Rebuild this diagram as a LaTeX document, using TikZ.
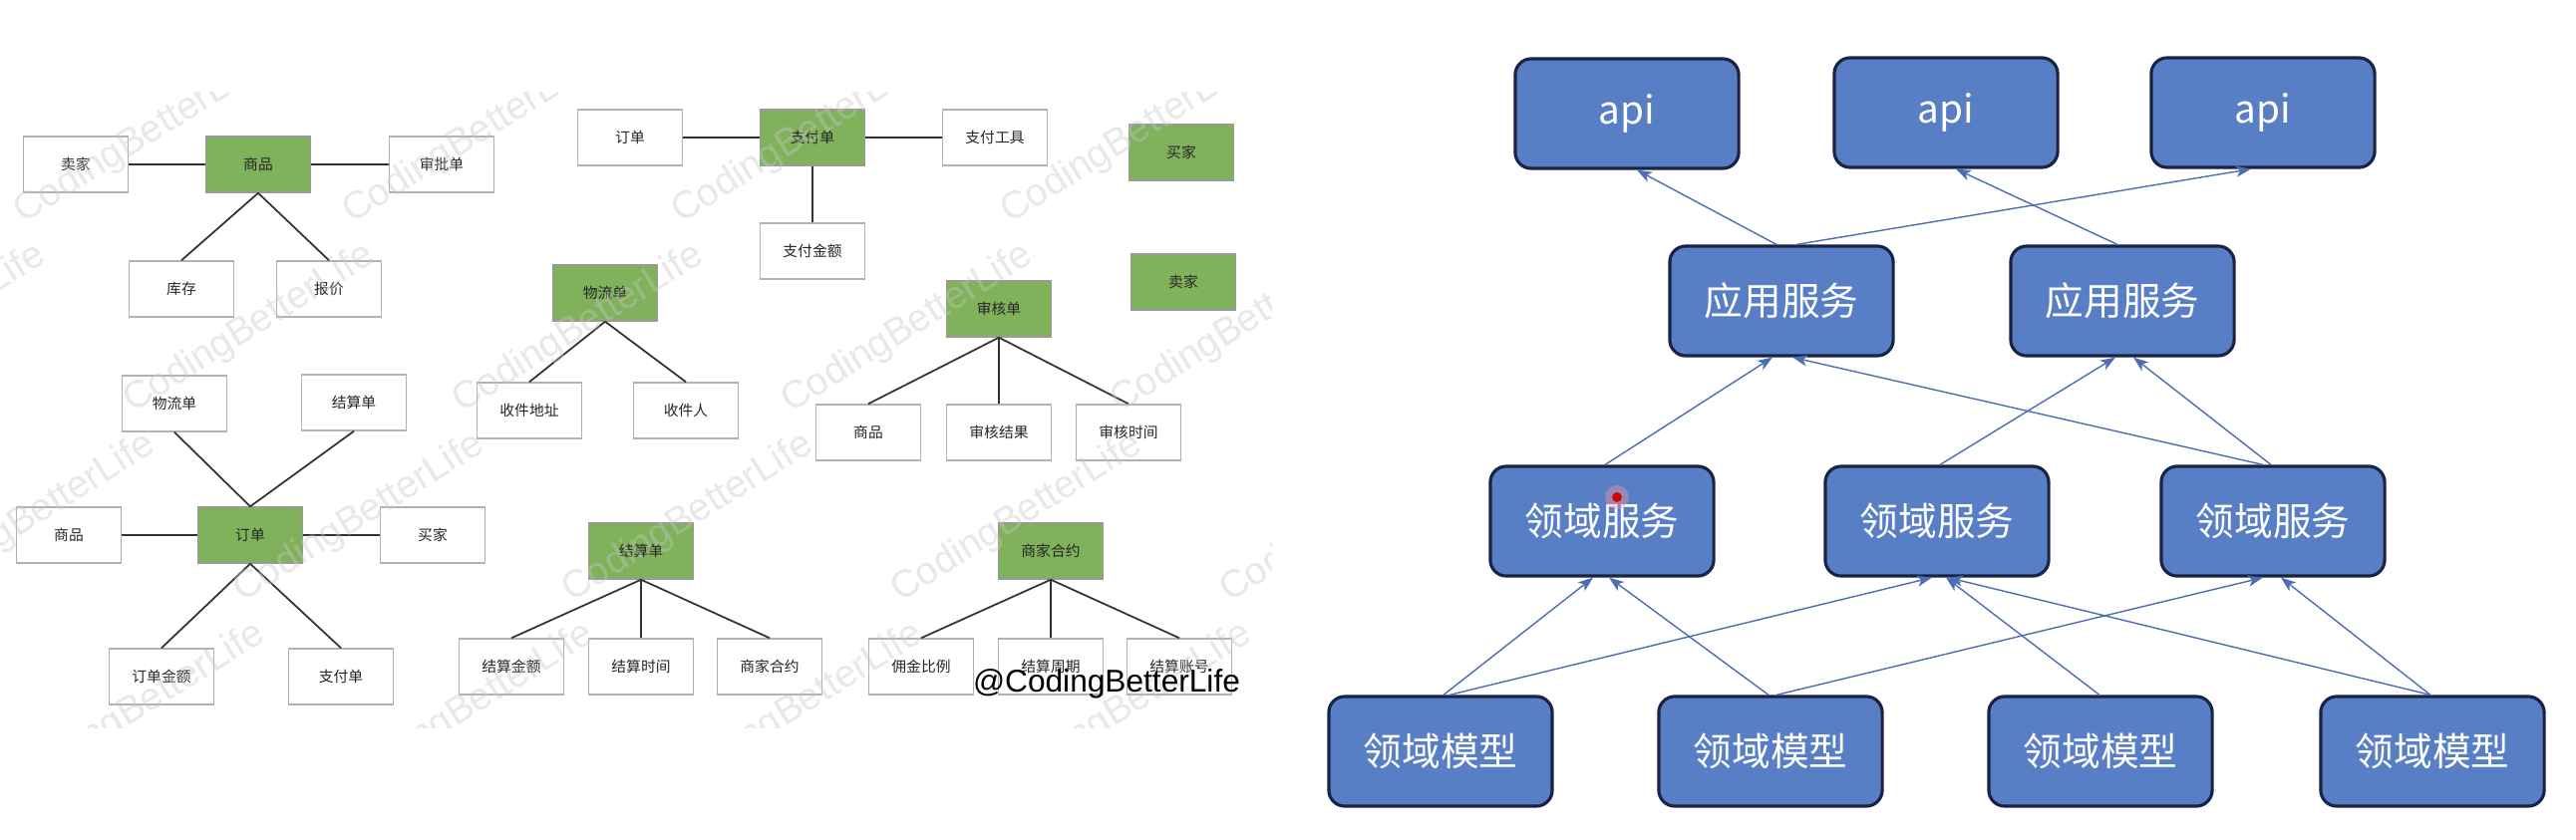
\documentclass[tikz,border=0pt]{standalone}
\usepackage{fontspec}
\newfontfamily\cjk{Noto Sans CJK SC}
\newfontfamily\wmfont{Liberation Sans}
\usepackage{tikz}
\usetikzlibrary{arrows.meta, calc}

\definecolor{erGreen}{RGB}{128,178,92}
\definecolor{boxBlue}{RGB}{88,126,198}
\definecolor{boxNavy}{RGB}{26,36,66}
\definecolor{arrBlue}{RGB}{78,110,178}

\tikzset{
  ent/.style={draw=black!30, line width=0.4pt, fill=white, minimum width=1.05cm, minimum height=0.56cm, inner sep=0pt, text=black!85, font=\cjk\fontsize{4.2}{5}\selectfont},
  entg/.style={ent, fill=erGreen, draw=black!40},
  link/.style={draw=black!80, line width=0.5pt},
  layer/.style={draw=boxNavy, line width=0.9pt, fill=boxBlue, rounded corners=1.6mm, minimum width=2.24cm, minimum height=1.1cm, inner sep=0pt, text=white, font=\cjk\fontsize{11}{13}\selectfont},
  up/.style={draw=arrBlue, line width=0.4pt, -{Stealth[length=1.5mm, width=1.1mm, inset=0.4mm]}},
  wm/.style={rotate=32, text=black!22, opacity=0.4, font=\wmfont\fontsize{11}{13}\selectfont}
}

\begin{document}
\begin{tikzpicture}[x=0.01cm, y=-0.01cm]
\useasboundingbox (0,0) rectangle (2584,842);
\fill[white] (0,0) rectangle (2584,842);

\node[ent] (sj1) at (76,165) {卖家};
\node[entg] (sp1) at (259,165) {商品};
\node[ent] (spd) at (443,165) {审批单};
\node[ent] (kc) at (182,290) {库存};
\node[ent] (bj) at (330,290) {报价};
\draw[link] (sj1) -- (sp1);
\draw[link] (sp1) -- (spd);
\draw[link] (sp1.south) -- (kc.north);
\draw[link] (sp1.south) -- (bj.north);

\node[ent] (wld2) at (175,405) {物流单};
\node[ent] (jsd2) at (355,404) {结算单};
\node[ent] (sp2) at (69,537) {商品};
\node[entg] (dd) at (251,537) {订单};
\node[ent] (mj2) at (434,537) {买家};
\node[ent] (ddje) at (162,679) {订单金额};
\node[ent] (zfd2) at (342,679) {支付单};
\draw[link] (wld2.south) -- (dd.north);
\draw[link] (jsd2.south) -- (dd.north);
\draw[link] (sp2) -- (dd);
\draw[link] (dd) -- (mj2);
\draw[link] (dd.south) -- (ddje.north);
\draw[link] (dd.south) -- (zfd2.north);

\node[ent] (dd3) at (632,138) {订单};
\node[entg] (zfd) at (815,138) {支付单};
\node[ent] (zfgj) at (998,138) {支付工具};
\node[ent] (zfje) at (815,252) {支付金额};
\draw[link] (dd3) -- (zfd);
\draw[link] (zfd) -- (zfgj);
\draw[link] (zfd) -- (zfje);

\node[entg] (mj) at (1185,153) {买家};
\node[entg] (sj) at (1187,283) {卖家};

\node[entg] (wld) at (607,294) {物流单};
\node[ent] (sjdz) at (531,412) {收件地址};
\node[ent] (sjr) at (688,412) {收件人};
\draw[link] (wld.south) -- (sjdz.north);
\draw[link] (wld.south) -- (sjr.north);

\node[entg] (shd) at (1002,310) {审核单};
\node[ent] (sp3) at (871,434) {商品};
\node[ent] (shjg) at (1002,434) {审核结果};
\node[ent] (shsj) at (1132,434) {审核时间};
\draw[link] (shd.south) -- (sp3.north);
\draw[link] (shd.south) -- (shjg.north);
\draw[link] (shd.south) -- (shsj.north);

\node[entg] (jsd) at (643,553) {结算单};
\node[ent] (jsje) at (513,669) {结算金额};
\node[ent] (jssj) at (643,669) {结算时间};
\node[ent] (sjhy2) at (772,669) {商家合约};
\draw[link] (jsd.south) -- (jsje.north);
\draw[link] (jsd.south) -- (jssj.north);
\draw[link] (jsd.south) -- (sjhy2.north);

\node[entg] (sjhy) at (1054,553) {商家合约};
\node[ent] (yjbl) at (924,669) {佣金比例};
\node[ent] (jszq) at (1054,669) {结算周期};
\node[ent] (jszh) at (1183,669) {结算账号};
\draw[link] (sjhy.south) -- (yjbl.north);
\draw[link] (sjhy.south) -- (jszq.north);
\draw[link] (sjhy.south) -- (jszh.north);

\begin{scope}
\clip (0,92) rectangle (1275,730);
\foreach \r in {0,...,3}
  \foreach \k in {-1,...,3}
    \node[wm] at ({\k*330+\r*110+140},{140+\r*190}) {CodingBetterLife};
\end{scope}

\node[text=black, font=\wmfont\fontsize{9}{11}\selectfont] (mark) at (1110,686) {@CodingBetterLife};

\node[layer] (api1) at (1632,114) {api};
\node[layer] (api2) at (1952,113) {api};
\node[layer] (api3) at (2270,113) {api};
\node[layer] (app1) at (1787,302) {应用服务};
\node[layer] (app2) at (2129,302) {应用服务};
\node[layer] (dsv1) at (1607,523) {领域服务};
\node[layer] (dsv2) at (1943,523) {领域服务};
\node[layer] (dsv3) at (2280,523) {领域服务};
\node[layer] (dm1) at (1445,754) {领域模型};
\node[layer] (dm2) at (1776,754) {领域模型};
\node[layer] (dm3) at (2107,754) {领域模型};
\node[layer] (dm4) at (2440,754) {领域模型};

\draw[up] ($(app1.north)+(-5,0)$) -- ($(api1.south)+(10,0)$);
\draw[up] ($(app2.north)+(-5,0)$) -- ($(api2.south)+(10,0)$);
\draw[up] ($(app1.north)+(15,0)$) -- ($(api3.south)+(-12,0)$);
\draw[up] ($(dsv1.north)+(3,0)$) -- ($(app1.south)+(-9,0)$);
\draw[up] ($(dsv3.north)+(-10,0)$) -- ($(app1.south)+(11,0)$);
\draw[up] ($(dsv2.north)+(3,0)$) -- ($(app2.south)+(-7,0)$);
\draw[up] ($(dsv3.north)+(-2,0)$) -- ($(app2.south)+(11,0)$);
\draw[up] ($(dm1.north)+(3,0)$) -- ($(dsv1.south)+(-9,0)$);
\draw[up] ($(dm2.north)+(-2,0)$) -- ($(dsv1.south)+(7,0)$);
\draw[up] ($(dm1.north)+(9,0)$) -- ($(dsv2.south)+(-5,0)$);
\draw[up] ($(dm3.north)+(-1,0)$) -- ($(dsv2.south)+(9,0)$);
\draw[up] ($(dm4.north)+(-2,0)$) -- ($(dsv2.south)+(11,0)$);
\draw[up] ($(dm2.north)+(6,0)$) -- ($(dsv3.south)+(-10,0)$);
\draw[up] ($(dm4.north)+(-2,0)$) -- ($(dsv3.south)+(8,0)$);

\fill[red!40, opacity=0.4] (1622,499) circle (3.4pt);
\fill[red!85!black] (1622,499) circle (1.4pt);
\end{tikzpicture}
\end{document}
